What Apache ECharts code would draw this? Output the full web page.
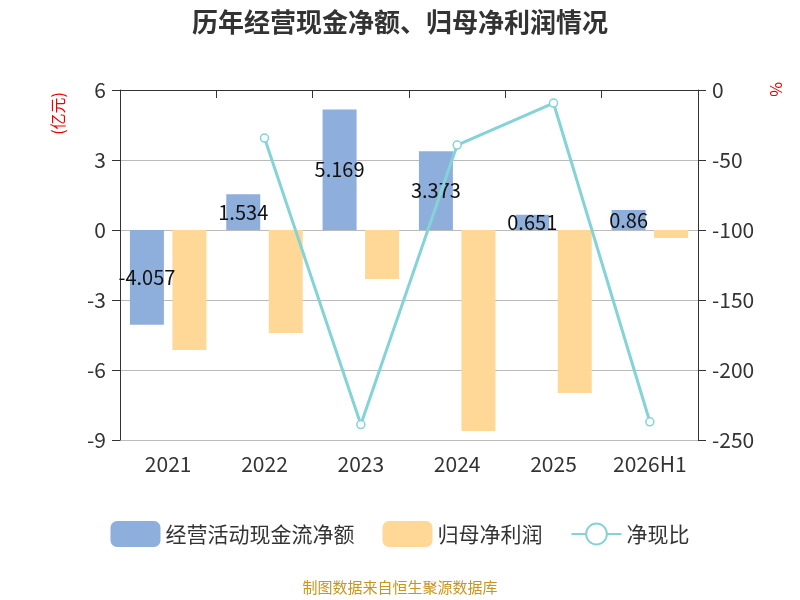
<!DOCTYPE html>
<html><head><meta charset="utf-8">
<script src="https://cdn.jsdelivr.net/npm/echarts@6/dist/echarts.min.js"></script>
<style>html,body{margin:0;background:#fff}#c{width:800px;height:600px}</style>
</head><body><div id="c"></div>
<script>
const years = ["2021", "2022", "2023", "2024", "2025", "2026H1"];
const cashFlow = [-4.057, 1.534, 5.169, 3.373, 0.651, 0.86];
const netProfit = [-5.14, -4.41, -2.1, -8.61, -6.99, -0.34];
const cashRatio = [null, -34.3, -239, -39.3, -9.3, -237];

const chart = echarts.init(document.getElementById("c"));
const font = "'Noto Sans CJK SC', 'Noto Sans', sans-serif";
chart.setOption({
  textStyle: { fontFamily: font },
  title: { text: "历年经营现金净额、归母净利润情况", left: "center", top: 4,
    textStyle: { fontSize: 26, fontWeight: "bold", color: "#333", fontFamily: font } },
  legend: { bottom: 48, itemWidth: 50, itemHeight: 26, itemGap: 28,
    textStyle: { fontSize: 21, color: "#333" },
    data: [{ name: "经营活动现金流净额" }, { name: "归母净利润" }, { name: "净现比" }] },
  grid: { left: 120, right: 102, top: 90, bottom: 160 },
  graphic: [
    { type: "text", left: 50, top: 92, rotation: Math.PI / 2,
      style: { text: "(亿元)", fill: "#e00", fontSize: 16, fontFamily: font } },
    { type: "text", left: 768, top: 82, rotation: -Math.PI / 2,
      style: { text: "%", fill: "#e00", fontSize: 16, fontFamily: font } },
    { type: "text", left: "center", top: 580,
      style: { text: "制图数据来自恒生聚源数据库", fill: "#c8961e", fontSize: 15, fontFamily: font } }
  ],
  xAxis: [
    { type: "category", data: years, position: "bottom", axisLine: { show: false }, axisTick: { show: false },
      axisLabel: { fontSize: 21, color: "#333", margin: 14 } },
    { type: "category", data: years, position: "top",
      axisLine: { show: true, onZero: true, lineStyle: { color: "#333" } },
      axisTick: { show: true, inside: true, length: 8, lineStyle: { color: "#333" } }, axisLabel: { show: false } }
  ],
  yAxis: [
    { type: "value", min: -9, max: 6, interval: 3,
      axisLine: { show: true, lineStyle: { color: "#333" } }, axisTick: { show: true, length: 8 },
      axisLabel: { fontSize: 21, color: "#333", margin: 14 },
      splitLine: { lineStyle: { color: "#bbb" } } },
    { type: "value", min: -250, max: 0, interval: 50,
      axisLine: { show: true, lineStyle: { color: "#333" } }, axisTick: { show: true, length: 8 },
      axisLabel: { fontSize: 21, color: "#333", margin: 14 }, splitLine: { show: false } }
  ],
  series: [
    { name: "经营活动现金流净额", type: "bar", data: cashFlow, barWidth: 34, barGap: "25%",
      itemStyle: { color: "#8eaedb" },
      label: { show: true, position: "inside", color: "#111", fontSize: 20 } },
    { name: "归母净利润", type: "bar", data: netProfit, barWidth: 34,
      itemStyle: { color: "#ffd898" } },
    { name: "净现比", type: "line", yAxisIndex: 1, data: cashRatio, symbol: "circle", symbolSize: 8,
      itemStyle: { color: "#fff", borderColor: "#84d3d6", borderWidth: 1.5 },
      lineStyle: { color: "#84d3d6", width: 3 } }
  ]
});
</script></body></html>
